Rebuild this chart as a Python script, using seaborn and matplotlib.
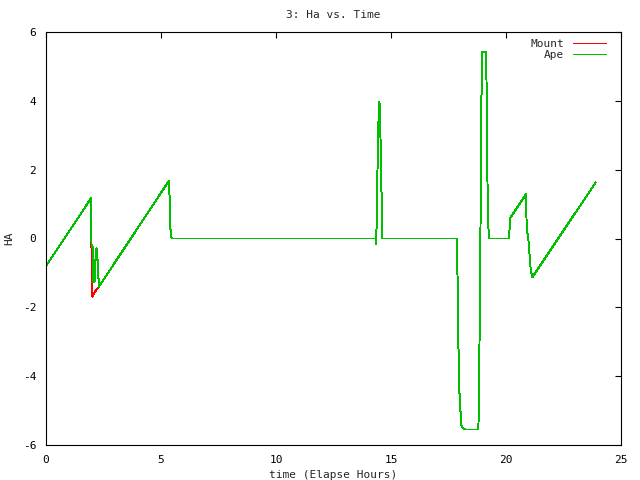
import matplotlib
matplotlib.use("Agg")
import matplotlib.pyplot as plt
import seaborn as sns
import pandas as pd

# Ape series (green)
ape_t = [0.00, 1.96, 1.98, 2.03, 2.04, 2.12, 2.13, 2.17, 2.18, 2.21, 2.22, 2.25, 2.26, 2.29, 2.30,
         5.35, 5.37, 5.39, 5.46, 14.33, 14.35, 14.38, 14.41, 14.45, 14.49, 14.52, 14.55, 14.60, 14.62,
         17.88, 17.89, 17.93, 17.97, 18.03, 18.07, 18.22, 18.80, 18.83, 18.87, 18.90, 18.93, 18.97,
         19.14, 19.16, 19.20, 19.25, 20.14, 20.17, 20.25, 20.87, 20.90, 20.97, 21.07, 21.14, 23.90]
ape_ha = [-0.80, 1.17, -0.24, -0.24, -1.25, -1.25, -0.62, -0.62, -0.29, -0.29, -0.62, -0.62, -1.16, -1.16, -1.40,
          1.68, 1.26, 0.39, 0.00, 0.00, -0.16, 0.49, 1.90, 3.30, 3.98, 3.79, 2.67, 0.89, 0.00,
          0.00, -1.01, -3.05, -4.40, -5.13, -5.47, -5.55, -5.55, -4.21, -1.55, 1.17, 4.00, 5.41,
          5.41, 4.05, 1.31, 0.00, 0.00, 0.59, 0.66, 1.29, 0.30, 0.00, -0.87, -1.13, 1.63]

# Mount series (red)
mount_t = [0.00, 1.96, 1.96, 1.97, 2.01, 2.02, 2.10, 2.30,
           5.35, 5.37, 5.39, 5.46, 14.33, 14.35, 14.38, 14.41, 14.45, 14.49, 14.52, 14.55, 14.60, 14.62,
           17.88, 17.89, 17.93, 17.97, 18.03, 18.07, 18.22, 18.80, 18.83, 18.87, 18.90, 18.93, 18.97,
           19.14, 19.16, 19.20, 19.25, 20.14, 20.17, 20.25, 20.87, 20.90, 20.97, 21.07, 21.14, 23.90]
mount_ha = [-0.80, 1.17, 0.68, -0.24, -0.24, -1.69, -1.57, -1.40,
            1.68, 1.26, 0.39, 0.00, 0.00, -0.16, 0.49, 1.90, 3.30, 3.98, 3.79, 2.67, 0.89, 0.00,
            0.00, -1.01, -3.05, -4.40, -5.13, -5.47, -5.55, -5.55, -4.21, -1.55, 1.17, 4.00, 5.41,
            5.41, 4.05, 1.31, 0.00, 0.00, 0.59, 0.66, 1.29, 0.30, 0.00, -0.87, -1.13, 1.63]

x_ticks = [0, 5, 10, 15, 20, 25]
y_ticks = [-6, -4, -2, 0, 2, 4, 6]

df = pd.concat([
    pd.DataFrame({"t": mount_t, "ha": mount_ha, "series": "Mount"}),
    pd.DataFrame({"t": ape_t, "ha": ape_ha, "series": "Ape"}),
])

sns.set_style("white")
plt.rcParams["font.family"] = ["DejaVu Sans Mono"]

fig = plt.figure(figsize=(6.4, 4.8), dpi=100)
ax = fig.add_axes([46/640, 1-445/480, (621-46)/640, (445-32)/480])

sns.lineplot(data=df, x="t", y="ha", hue="series", hue_order=["Mount", "Ape"],
             palette={"Mount": "#ff0000", "Ape": "#00c000"},
             sort=False, estimator=None, linewidth=0.7, antialiased=False, ax=ax, legend=True)

ax.set_xlim(0, 25)
ax.set_ylim(-6, 6)
ax.set_xticks(x_ticks)
ax.set_yticks(y_ticks)
ax.set_xticklabels([str(v) for v in x_ticks])
ax.set_yticklabels([str(v) for v in y_ticks])
ax.tick_params(direction="in", length=4.5, width=0.8, top=True, right=True, labelsize=8,
               colors="black", pad=7)
for s in ax.spines.values():
    s.set_color("black")
    s.set_linewidth(0.8)
    s.set_visible(True)

ax.set_title("3: Ha vs. Time", fontsize=8, pad=10)
ax.set_xlabel("time (Elapse Hours)", fontsize=8, labelpad=4)
ax.set_ylabel("HA", fontsize=8, labelpad=6)

leg = ax.legend(loc="upper right", bbox_to_anchor=(0.986, 1.0), frameon=False, markerfirst=False,
                fontsize=8, handlelength=3.0, handletextpad=0.8, labelspacing=0.1, borderaxespad=0.2)
for ln in leg.get_lines():
    ln.set_antialiased(False)
    ln.set_linewidth(0.7)

fig.savefig("out.png", dpi=100)
